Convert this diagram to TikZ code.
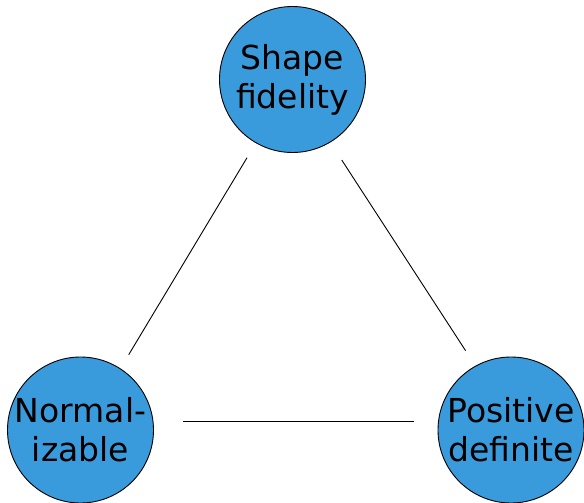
\documentclass[tikz,border=0pt]{standalone}
\usepackage{fontspec}
\setmainfont{DejaVu Sans}
\usepackage{tikz}

\begin{document}
\begin{tikzpicture}[x=1pt, y=-1pt]

% Colori
\definecolor{colCerchio}{HTML}{3A9BDC}

% Stile dei cerchi
\tikzset{
  propCerchio/.style={circle, draw=black, line width=0.9pt, fill=colCerchio,
    minimum size=146pt, inner sep=-12pt, align=center,
    font=\fontsize{33}{39}\selectfont},
  lato/.style={black, line width=0.9pt}
}

% Area del disegno
\useasboundingbox (0,0) rectangle (584,503);

% Proprieta
\node[propCerchio] (forma) at (292.5,79.5) {Shape\\fidelity};
\node[propCerchio] (norm) at (80.5,430) {Normal-\\izable};
\node[propCerchio] (posdef) at (511,430) {Positive\\definite};

% Lati del triangolo
\draw[lato, shorten <=17pt, shorten >=16pt] (forma.240.4) -- (norm.57.1);
\draw[lato, shorten <=21pt, shorten >=18pt] (forma.301.1) -- (posdef.119.7);
\draw[lato, shorten <=30pt, shorten >=24pt] (norm.7) -- (posdef.173);

\end{tikzpicture}
\end{document}
